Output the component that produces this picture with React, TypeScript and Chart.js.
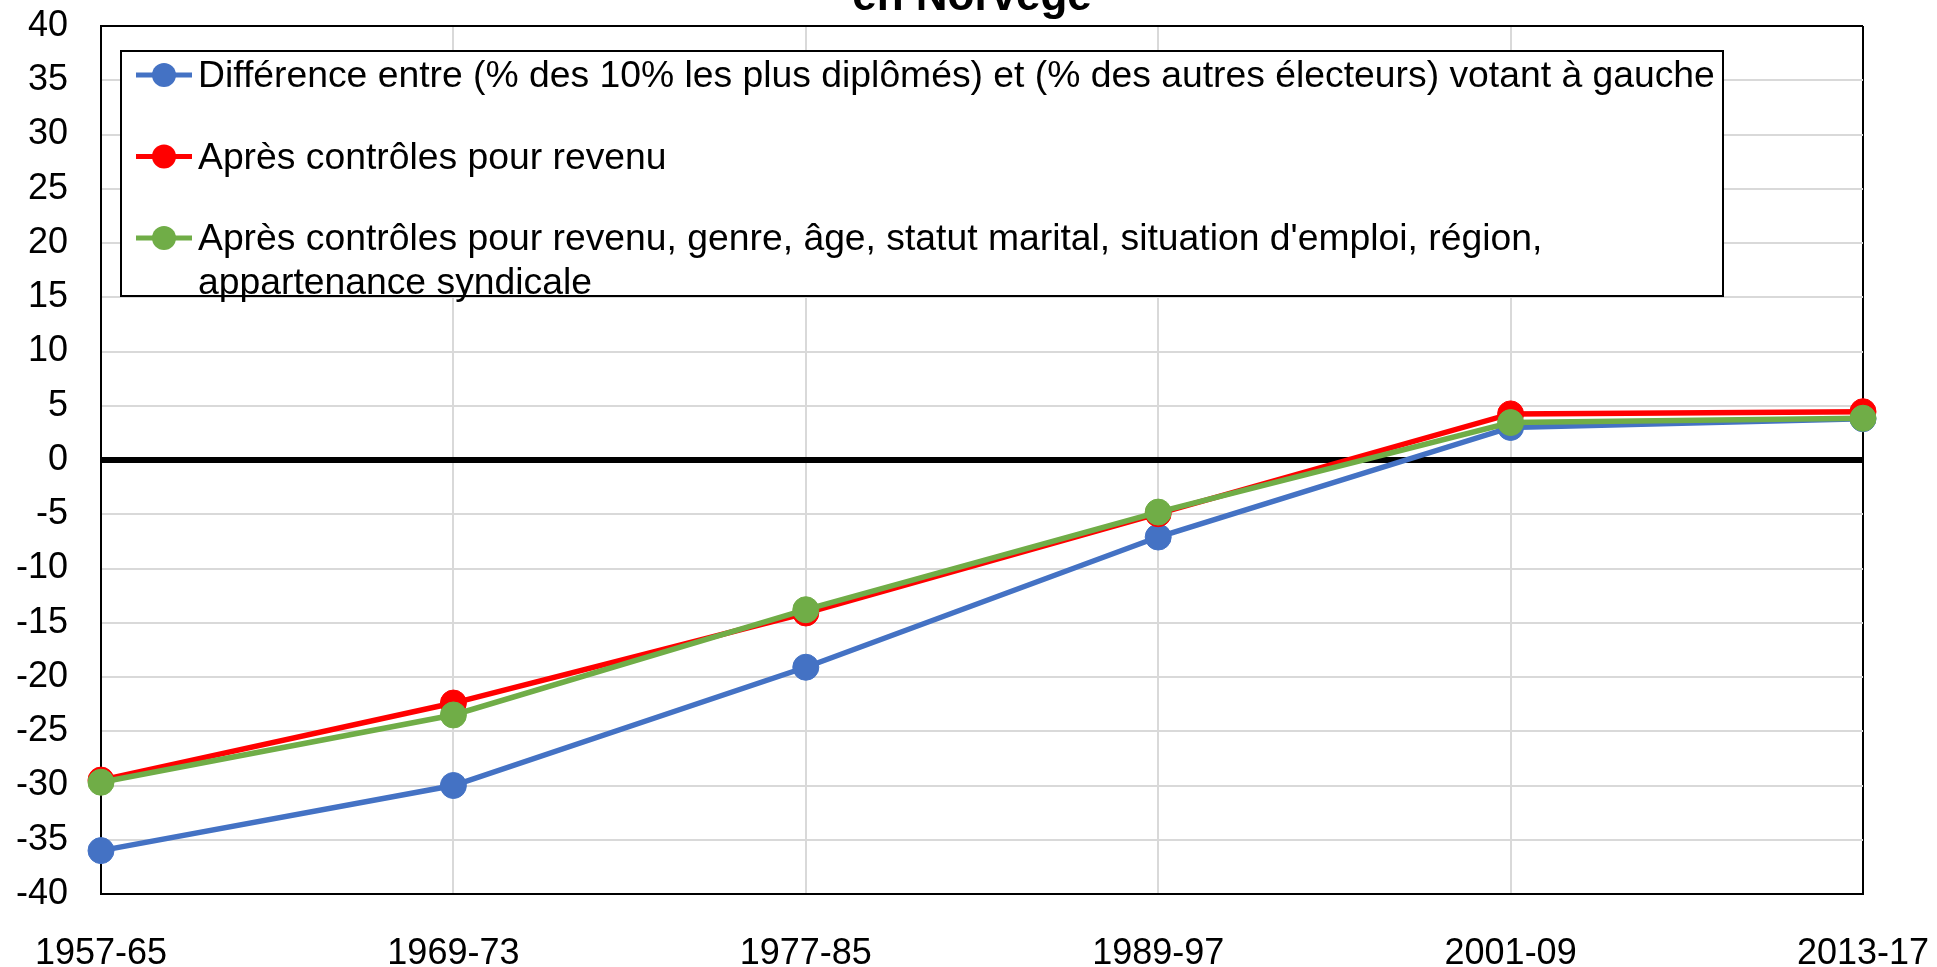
import React, { useEffect, useRef } from 'react';
import { Chart, registerables } from 'chart.js';

Chart.register(...registerables);

// ---- Data ----
const periods = ['1957-65', '1969-73', '1977-85', '1989-97', '2001-09', '2013-17'];
const diffRaw = [-36.0, -30.0, -19.1, -7.1, 3.0, 3.8];
const diffIncome = [-29.5, -22.4, -14.1, -4.95, 4.25, 4.45];
const diffAllControls = [-29.7, -23.5, -13.8, -4.8, 3.45, 3.85];

const seriesLabels = [
  'Différence entre (% des 10% les plus diplômés) et (% des autres électeurs) votant à gauche',
  'Après contrôles pour revenu',
  "Après contrôles pour revenu, genre, âge, statut marital, situation d'emploi, région,\nappartenance syndicale",
];
const seriesColors = ['#4472C4', '#FF0000', '#70AD47'];
const titleText = 'en Norvège';
const yMin = -40;
const yMax = 40;
const yStep = 5;

const FONT = 'Arial, "Liberation Sans", sans-serif';

const titlePlugin = {
  id: 'cutTitle',
  afterDraw(chart: any) {
    const ctx = chart.ctx;
    ctx.save();
    ctx.font = `bold 44px ${FONT}`;
    ctx.fillStyle = '#000';
    ctx.textAlign = 'center';
    ctx.textBaseline = 'alphabetic';
    ctx.fillText(titleText, 972, 10);
    ctx.restore();
  },
};

const boxLegendPlugin = {
  id: 'boxLegend',
  afterDatasetsDraw(chart: any) {
    const ctx = chart.ctx;
    const left = 121, top = 51, right = 1723, bottom = 296;
    ctx.save();
    ctx.fillStyle = '#fff';
    ctx.fillRect(left, top, right - left, bottom - top);
    ctx.strokeStyle = '#000';
    ctx.lineWidth = 2;
    ctx.strokeRect(left, top, right - left, bottom - top);
    ctx.font = `37.3px ${FONT}`;
    ctx.textBaseline = 'middle';
    ctx.textAlign = 'left';
    let y = 75;
    chart.data.datasets.forEach((ds: any) => {
      const lines = String(ds.label).split('\n');
      ctx.strokeStyle = ds.borderColor;
      ctx.lineWidth = 5;
      ctx.beginPath();
      ctx.moveTo(136, y);
      ctx.lineTo(192, y);
      ctx.stroke();
      ctx.fillStyle = ds.borderColor;
      ctx.beginPath();
      ctx.arc(164, y, 12, 0, Math.PI * 2);
      ctx.fill();
      ctx.fillStyle = '#000';
      lines.forEach((ln, j) => ctx.fillText(ln, 198, y + 2 + j * 44));
      y += 81.5 + (lines.length - 1) * 44;
    });
    ctx.restore();
  },
};

export default function App() {
  const canvasRef = useRef<HTMLCanvasElement | null>(null);

  useEffect(() => {
    if (!canvasRef.current) return;
    const series = [diffRaw, diffIncome, diffAllControls];
    const drawOrder = [3, 2, 1];
    const chart = new Chart(canvasRef.current, {
      type: 'line',
      data: {
        labels: periods,
        datasets: series.map((values, i) => ({
          label: seriesLabels[i],
          data: values,
          borderColor: seriesColors[i],
          backgroundColor: seriesColors[i],
          pointBackgroundColor: seriesColors[i],
          pointBorderColor: seriesColors[i],
          borderWidth: 5.5,
          pointRadius: 13,
          pointBorderWidth: 1,
          tension: 0,
          fill: false,
          order: drawOrder[i],
        })),
      },
      options: {
        animation: false,
        responsive: false,
        devicePixelRatio: 1,
        layout: { padding: { top: 26, right: 74, left: 0, bottom: 0 } },
        plugins: {
          legend: { display: false },
          title: { display: false },
          tooltip: { enabled: false },
        },
        scales: {
          x: {
            type: 'category',
            offset: false,
            grid: {
              z: -1,
              drawTicks: false,
              lineWidth: 2,
              color: (c: any) =>
                c.index === 0 || c.index === periods.length - 1 ? '#000' : '#D9D9D9',
            },
            border: { display: true, color: '#000', width: 2 },
            ticks: {
              color: '#000',
              font: { family: FONT, size: 36 },
              padding: 38,
              maxRotation: 0,
              autoSkip: false,
            },
            afterFit: (scale: any) => {
              scale.height = 73;
              scale.paddingLeft = 0;
              scale.paddingRight = 0;
            },
          },
          y: {
            min: yMin,
            max: yMax,
            grid: {
              drawTicks: false,
              lineWidth: (c: any) => (c.tick && c.tick.value === 0 ? 6 : 2),
              color: (c: any) => {
                const v = c.tick ? c.tick.value : null;
                if (v === 0 || v === yMin || v === yMax) return '#000';
                return '#D9D9D9';
              },
            },
            border: { display: true, color: '#000', width: 2 },
            ticks: {
              stepSize: yStep,
              color: '#000',
              font: { family: FONT, size: 36 },
              padding: 33,
            },
            afterFit: (scale: any) => {
              scale.width = 101;
              scale.paddingTop = 0;
              scale.paddingBottom = 0;
            },
          },
        },
      },
      plugins: [boxLegendPlugin, titlePlugin],
    });
    return () => chart.destroy();
  }, []);

  return (
    <div style={{ position: 'fixed', left: 0, top: 0, width: 1937, height: 967, background: '#fff' }}>
      <canvas ref={canvasRef} width={1937} height={967} />
    </div>
  );
}
